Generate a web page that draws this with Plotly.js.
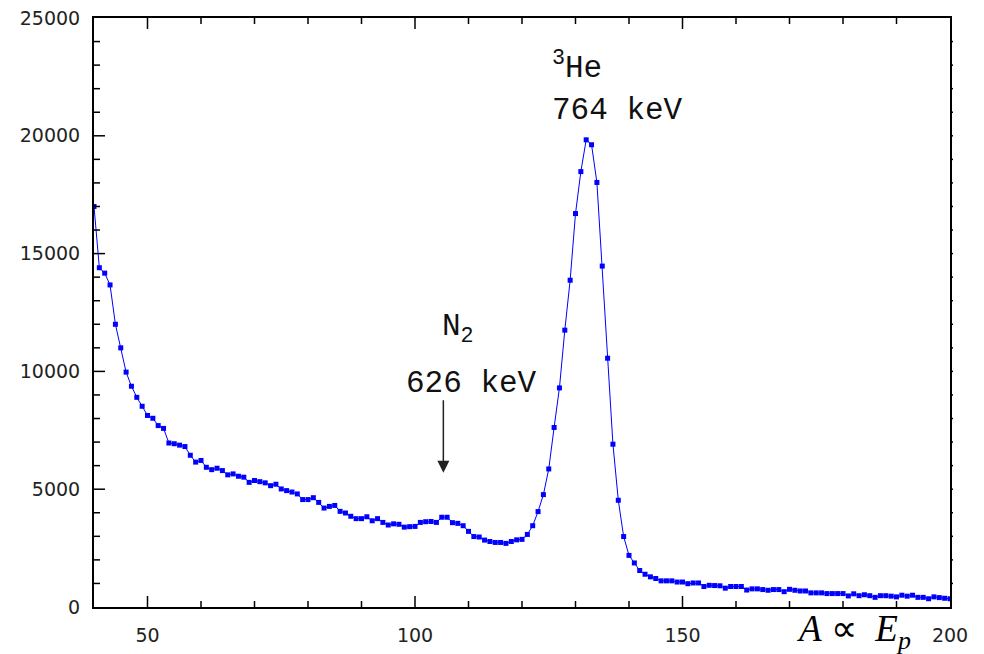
<!DOCTYPE html>
<html>
<head>
<meta charset="utf-8">
<script src="https://cdn.plot.ly/plotly-3.0.1.min.js"></script>
<style>
html,body{margin:0;padding:0;background:#fff;overflow:hidden;}
#chart{width:984px;height:654px;}
</style>
</head>
<body>
<div id="chart"></div>
<script>
// Channel numbers (x) and counts (y)
const channels = [
  40,41,42,43,44,45,46,47,48,49,
  50,51,52,53,54,55,56,57,58,59,
  60,61,62,63,64,65,66,67,68,69,
  70,71,72,73,74,75,76,77,78,79,
  80,81,82,83,84,85,86,87,88,89,
  90,91,92,93,94,95,96,97,98,99,
  100,101,102,103,104,105,106,107,108,109,
  110,111,112,113,114,115,116,117,118,119,
  120,121,122,123,124,125,126,127,128,129,
  130,131,132,133,134,135,136,137,138,139,
  140,141,142,143,144,145,146,147,148,149,
  150,151,152,153,154,155,156,157,158,159,
  160,161,162,163,164,165,166,167,168,169,
  170,171,172,173,174,175,176,177,178,179,
  180,181,182,183,184,185,186,187,188,189,
  190,191,192,193,194,195,196,197,198,199,
  200
];
const counts = [
  17000,14400,14170,13670,12000,11000,9970,9370,8900,8520,
  8130,8010,7700,7580,6960,6930,6870,6810,6440,6150,
  6220,5930,5830,5890,5790,5610,5650,5550,5510,5290,
  5370,5320,5270,5150,5210,5010,4940,4880,4800,4560,
  4560,4640,4440,4200,4270,4310,4060,3990,3850,3750,
  3750,3830,3660,3750,3590,3480,3530,3510,3390,3410,
  3420,3590,3620,3630,3590,3810,3810,3580,3550,3450,
  3210,2990,2970,2840,2780,2740,2740,2700,2780,2850,
  2870,3080,3450,4050,4770,5860,7620,9300,11750,13870,
  16700,18480,19830,19620,18020,14470,10560,6910,4530,2990,
  2190,1870,1550,1390,1280,1210,1110,1110,1110,1060,
  1060,990,1020,1020,870,920,910,900,800,870,
  870,870,720,770,770,740,710,740,740,650,
  750,710,680,680,600,600,600,570,570,570,
  570,470,560,480,520,480,410,480,480,460,
  430,500,460,500,410,410,350,430,400,370,
  350
];
// Axis ranges and tick spacing
const xRange = [40, 200];
const yRange = [0, 25000];
const xMajor = 50, xMinor = 10;
const yMajor = 5000, yMinor = 1000;

const trace = {
  x: channels, y: counts,
  type: 'scatter', mode: 'lines+markers',
  line: {color: '#0000ff', width: 1},
  marker: {symbol: 'square', size: 5, color: '#0000ff'},
  hoverinfo: 'skip', showlegend: false
};

// Tick marks drawn as pixel-sized shapes anchored at axis values
const tickLine = {color: '#000', width: 1.5};
const shapes = [];
for (let v = xRange[0] + xMinor; v < xRange[1]; v += xMinor) {
  const len = (v % xMajor === 0) ? 11 : 6;
  shapes.push({type: 'line', xref: 'x', yref: 'paper', ysizemode: 'pixel', yanchor: 0,
    x0: v, x1: v, y0: 0, y1: len, line: tickLine, layer: 'above'});
  shapes.push({type: 'line', xref: 'x', yref: 'paper', ysizemode: 'pixel', yanchor: 1,
    x0: v, x1: v, y0: 0, y1: -len, line: tickLine, layer: 'above'});
}
for (let v = yRange[0] + yMinor; v < yRange[1]; v += yMinor) {
  const len = (v % yMajor === 0) ? 11 : 6;
  shapes.push({type: 'line', xref: 'paper', yref: 'y', xsizemode: 'pixel', xanchor: 0,
    x0: 0, x1: len, y0: v, y1: v, line: tickLine, layer: 'above'});
  shapes.push({type: 'line', xref: 'paper', yref: 'y', xsizemode: 'pixel', xanchor: 1,
    x0: 0, x1: 3, y0: v, y1: v, line: tickLine, layer: 'above'});
}

const tickFont = {family: 'DejaVu Sans', size: 19, color: '#222'};
const monoFont = {family: 'Liberation Mono', size: 31, color: '#111'};

const layout = {
  width: 984, height: 654,
  margin: {l: 94, r: 34, t: 18, b: 47},
  paper_bgcolor: '#fff', plot_bgcolor: '#fff',
  showlegend: false,
  xaxis: {
    range: xRange,
    tickmode: 'linear', tick0: 0, dtick: xMajor, tickformat: 'd',
    ticks: '', ticklabelstandoff: 10,
    showline: true, linewidth: 2, linecolor: '#000', mirror: true,
    showgrid: false, zeroline: false,
    tickfont: tickFont
  },
  yaxis: {
    range: yRange,
    tickmode: 'linear', tick0: 0, dtick: yMajor, tickformat: 'd',
    ticks: '', ticklabelstandoff: 8,
    showline: true, linewidth: 2, linecolor: '#000', mirror: true,
    showgrid: false, zeroline: false,
    tickfont: tickFont
  },
  shapes: shapes,
  annotations: [
    {xref: 'x', yref: 'y', x: 104.7, y: 11800, xanchor: 'left', yanchor: 'middle',
     text: 'N<sub>2</sub>', showarrow: false, font: monoFont},
    {xref: 'x', yref: 'y', x: 98.0, y: 9480, xanchor: 'left', yanchor: 'middle',
     text: '626 keV', showarrow: false, font: monoFont},
    {xref: 'x', yref: 'y', x: 125.3, y: 22950, xanchor: 'left', yanchor: 'middle',
     text: '<sup>3</sup>He', showarrow: false, font: monoFont},
    {xref: 'x', yref: 'y', x: 125.3, y: 21080, xanchor: 'left', yanchor: 'middle',
     text: '764 keV', showarrow: false, font: monoFont},
    {xref: 'x', yref: 'y', x: 105.3, y: 5700, axref: 'pixel', ayref: 'pixel', ax: 0, ay: -74,
     text: '', showarrow: true, arrowhead: 2, arrowsize: 1.6, arrowwidth: 1.5, arrowcolor: '#222'},
    {xref: 'paper', yref: 'paper', x: 0.8175, y: -0.042, xanchor: 'left', yanchor: 'middle',
     text: '<i>A</i> ∝&nbsp; <i>E</i><sub><i>p</i></sub>', showarrow: false,
     font: {family: 'Liberation Serif', size: 37, color: '#000'}}
  ]
};

Plotly.newPlot('chart', [trace], layout, {staticPlot: true});
</script>
</body>
</html>
